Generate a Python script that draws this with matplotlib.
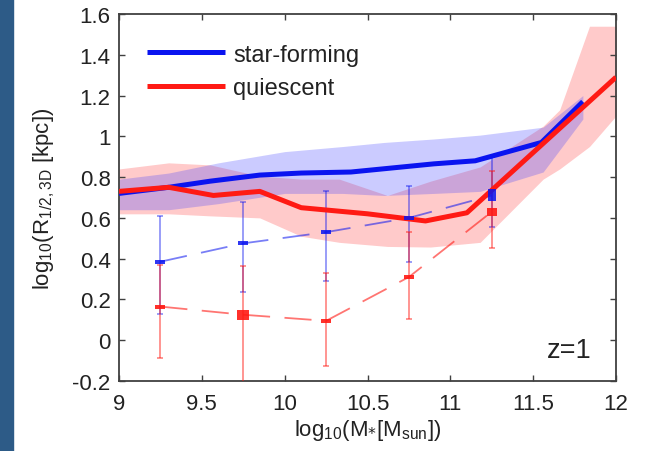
import numpy as np
import matplotlib.pyplot as plt
from matplotlib.ticker import FormatStrFormatter, MultipleLocator

plt.rcParams['font.family'] = ['Liberation Sans', 'DejaVu Sans']
plt.rcParams['mathtext.default'] = 'regular'
plt.rcParams['axes.unicode_minus'] = False

# ── Data ──────────────────────────────────────────────────────────────────────
# star-forming: median line and scatter band
sf_x    = [9.0, 9.3, 9.55, 9.85, 10.1, 10.4, 10.65, 10.9, 11.15, 11.55, 11.8]
sf_y    = [0.72, 0.75, 0.78, 0.81, 0.82, 0.825, 0.845, 0.865, 0.88, 0.97, 1.17]
sf_bx   = [9.0, 9.3, 9.6, 10.0, 10.35, 10.6, 10.9, 11.18, 11.56, 11.8]
sf_bhi  = [0.79, 0.82, 0.87, 0.925, 0.95, 0.97, 0.987, 1.006, 1.045, 1.2]
sf_blo  = [0.64, 0.64, 0.67, 0.72, 0.72, 0.71, 0.72, 0.73, 0.825, 1.085]

# quiescent: median line and scatter band
q_x     = [9.0, 9.3, 9.57, 9.85, 10.1, 10.5, 10.85, 11.1, 12.0]
q_y     = [0.73, 0.75, 0.71, 0.73, 0.65, 0.62, 0.585, 0.625, 1.29]
q_bx    = [9.0, 9.3, 9.55, 9.85, 10.1, 10.33, 10.62, 10.88, 11.18, 11.56, 11.66, 11.84, 12.0]
q_bhi   = [0.84, 0.87, 0.86, 0.805, 0.79, 0.79, 0.71, 0.78, 0.85, 1.05, 1.13, 1.54, 1.54]
q_blo   = [0.62, 0.62, 0.61, 0.60, 0.51, 0.48, 0.46, 0.457, 0.48, 0.79, 0.84, 0.95, 1.1]

# observed points with error bars
obs_x   = [9.25, 9.75, 10.25, 10.75, 11.25]
sf_obs  = [0.385, 0.475, 0.53, 0.60, 0.71]
sf_top  = [0.61, 0.68, 0.73, 0.755, 0.90]
sf_bot  = [0.13, 0.235, 0.29, 0.385, 0.555]
q_obs   = [0.165, 0.125, 0.095, 0.31, 0.63]
q_top   = [0.37, 0.365, 0.33, 0.53, 0.83]
q_bot   = [-0.085, -0.25, -0.125, 0.105, 0.45]

xticks = [9, 9.5, 10, 10.5, 11, 11.5, 12]

# ── Styles ────────────────────────────────────────────────────────────────────
BLUE = '#0a14f0'
RED  = '#ff1a14'
FLAT = [(-1, -0.42), (1, -0.42), (1, 0.42), (-1, 0.42), (-1, -0.42)]
TALL = [(-0.62, -1), (0.62, -1), (0.62, 1), (-0.62, 1), (-0.62, -1)]
SQ   = [(-1, -0.85), (1, -0.85), (1, 0.85), (-1, 0.85), (-1, -0.85)]
sf_marks = [(FLAT, 7.5), (FLAT, 7.5), (FLAT, 7.5), (FLAT, 7.5), (TALL, 9)]
q_marks  = [(FLAT, 7.5), (SQ, 8.5), (FLAT, 7.5), (FLAT, 7.5), (SQ, 7.5)]
DASH = (0, (15, 8))

fig = plt.figure(figsize=(6.49, 4.52), dpi=100, facecolor='white')
fig.patches.append(plt.Rectangle((0, 0), 13 / 649, 1, transform=fig.transFigure,
                                 color='#2d5b87', zorder=0))
ax = fig.add_axes([119 / 649, 1 - 382 / 452, 497 / 649, 367 / 452])

# bands
ax.fill_between(q_bx, q_blo, q_bhi, color='#ff5050', alpha=0.3, lw=0, zorder=1)
ax.fill_between(sf_bx, sf_blo, sf_bhi, color='#4040ff', alpha=0.27, lw=0, zorder=1)

# median lines
ax.plot(sf_x, sf_y, color=BLUE, lw=3.6, solid_capstyle='butt', zorder=4,
        label='star-forming')
ax.plot(q_x, q_y, color=RED, lw=3.6, solid_capstyle='butt', zorder=4,
        label='quiescent')

# dashed lines through observed points
ax.plot(obs_x, sf_obs, color=BLUE, alpha=0.55, lw=1.3, ls=DASH, zorder=3)
ax.plot(obs_x, q_obs, color=RED, alpha=0.6, lw=1.3, ls=DASH, zorder=3)

# error bars
sf_err = [np.subtract(sf_obs, sf_bot), np.subtract(sf_top, sf_obs)]
q_err = [np.subtract(q_obs, q_bot), np.subtract(q_top, q_obs)]
ax.errorbar(obs_x, sf_obs, yerr=sf_err, fmt='none', ecolor=BLUE, alpha=0.45,
            elinewidth=1.3, capsize=2.5, capthick=1.3, zorder=3)
ax.errorbar(obs_x, q_obs, yerr=q_err, fmt='none', ecolor=RED, alpha=0.5,
            elinewidth=1.3, capsize=2.5, capthick=1.3, zorder=3)

for x, y, (m, s) in zip(obs_x, sf_obs, sf_marks):
    ax.plot(x, y, marker=m, ms=s, color=BLUE, mew=0, alpha=0.85, zorder=5)
for x, y, (m, s) in zip(obs_x, q_obs, q_marks):
    ax.plot(x, y, marker=m, ms=s, color=RED, mew=0, alpha=0.9, zorder=5)

ax.set_xlim(9, 12)
ax.set_ylim(-0.2, 1.6)
ax.set_xticks(xticks)
ax.yaxis.set_major_locator(MultipleLocator(0.2))
ax.xaxis.set_major_formatter(FormatStrFormatter('%g'))
ax.yaxis.set_major_formatter(FormatStrFormatter('%g'))
ax.tick_params(direction='in', top=True, right=True, length=4, width=1,
               color='#404040', labelsize=16, labelcolor='#222222')
ax.tick_params(axis='y', pad=6)
ax.tick_params(axis='x', pad=9)
for sp in ax.spines.values():
    sp.set_color('#404040')
    sp.set_linewidth(1.3)

ax.set_xlabel(r'log$_{10}$(M$_{\mathrm{*}}$[M$_{sun}$])', fontsize=16, color='#222222')
ax.set_ylabel('log$_{10}$(R$_{1/2,3D}$ [kpc])', fontsize=16, color='#222222')
ax.yaxis.set_label_coords(-0.125, 0.5)
ax.xaxis.set_label_coords(0.5, -0.097)

ax.text(0.95, 0.065, 'z=1', transform=ax.transAxes, ha='right', va='baseline',
        fontsize=19.5, color='#222222')

ax.legend(loc='upper left', bbox_to_anchor=(0.013, 0.977), frameon=False,
          fontsize=17, handlelength=3.3, handletextpad=0.35, labelspacing=0.5,
          labelcolor='#222222')

plt.savefig('out.png', dpi=100, facecolor='white')
